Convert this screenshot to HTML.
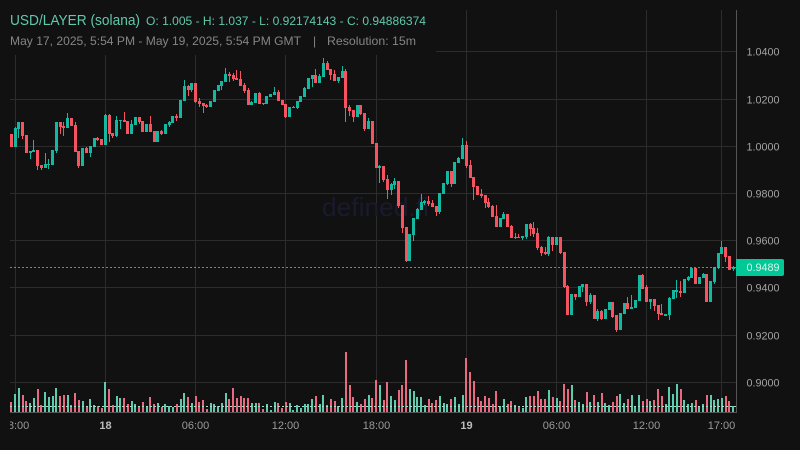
<!DOCTYPE html>
<html lang="en">
<head>
<meta charset="utf-8">
<title>USD/LAYER (solana) chart</title>
<style>
html,body{margin:0;padding:0;background:#111;width:800px;height:450px;overflow:hidden}
svg{display:block;font-family:"Liberation Sans",sans-serif}
</style>
</head>
<body>
<svg id="chart" xmlns="http://www.w3.org/2000/svg" width="800" height="450" viewBox="0 0 800 450">
  <defs>
    <clipPath id="axis-clip"><rect x="10" y="415" width="726" height="30"/></clipPath>
  </defs>
  <rect x="0" y="0" width="800" height="450" fill="#111111"/>
  <g id="grid"></g>
  <text x="322" y="216" font-size="26" fill="#1a1a2e" textLength="107" lengthAdjust="spacingAndGlyphs">defined.fi</text>
  <rect x="0" y="0" width="436" height="55" fill="#111111"/>
  <g id="volume"></g>
  <g id="candles"></g>
  <g id="overlay"></g>
  <g id="axes"></g>
  <text x="10" y="25" font-size="14.5" fill="#5fc9ab" textLength="130" lengthAdjust="spacingAndGlyphs">USD/LAYER (solana)</text>
  <text x="146" y="25" font-size="12" fill="#5fc9ab" textLength="280" lengthAdjust="spacingAndGlyphs">O: 1.005 - H: 1.037 - L: 0.92174143 - C: 0.94886374</text>
  <text x="10" y="45" font-size="12" fill="#858585" textLength="291" lengthAdjust="spacingAndGlyphs">May 17, 2025, 5:54 PM - May 19, 2025, 5:54 PM GMT</text>
  <text x="313" y="45" font-size="12" fill="#858585">|</text>
  <text x="327" y="45" font-size="12" fill="#858585" textLength="89" lengthAdjust="spacingAndGlyphs">Resolution: 15m</text>
</svg>
<script>
const opens = [1.0052,.9997,1.0073,1.0103,1.0048,.9972,.9976,.9984,.9921,.9908,.9921,.9921,.9980,1.0103,1.0086,1.0077,1.0120,1.0090,.9980,.9917,.9993,.9972,.9997,1.0035,1.0031,
1.0005,1.0133,1.0056,1.0044,1.0107,1.0111,1.0107,1.0052,1.0090,1.0124,1.0107,1.0060,1.0094,1.0065,1.0018,1.0065,1.0052,1.0090,1.0099,1.0128,1.0120,1.0192,1.0255,1.0238,1.0268,
1.0192,1.0183,1.0175,1.0166,1.0188,1.0234,1.0255,1.0272,1.0306,1.0302,1.0289,1.0285,1.0260,1.0238,1.0175,1.0183,1.0226,1.0183,1.0179,1.0209,1.0217,1.0230,1.0196,1.0179,1.0124,
1.0162,1.0162,1.0188,1.0209,1.0243,1.0285,1.0302,1.0268,1.0294,1.0353,1.0327,1.0306,1.0277,1.0289,1.0319,1.0166,1.0154,1.0124,1.0175,1.0141,1.0073,1.0107,1.0014,.9908,.9917,
.9861,.9815,.9836,.9853,.9751,.9658,.9514,.9624,.9692,.9730,.9760,.9768,.9760,.9747,.9722,.9798,.9840,.9895,.9840,.9929,.9946,1.0005,.9921,.9870,.9832,
.9798,.9794,.9764,.9747,.9705,.9658,.9692,.9713,.9662,.9611,.9616,.9611,.9616,.9671,.9654,.9633,.9573,.9552,.9544,.9616,.9582,.9616,.9552,.9408,.9285,
.9374,.9361,.9404,.9417,.9340,.9370,.9268,.9302,.9268,.9306,.9340,.9285,.9222,.9289,.9336,.9311,.9315,.9344,.9455,.9404,.9340,.9353,.9328,.9294,.9281,
.9285,.9353,.9383,.9387,.9378,.9433,.9442,.9484,.9417,.9442,.9459,.9340,.9425,.9484,.9544,.9573,.9535,.9480];
const highs = [1.0052,1.0082,1.0103,1.0103,1.0048,.9980,1.0027,.9984,.9921,.9972,.9946,.9984,1.0103,1.0103,1.0103,1.0141,1.0120,1.0103,.9980,.9993,.9997,1.0001,1.0035,1.0039,1.0031,
1.0137,1.0137,1.0056,1.0128,1.0111,1.0145,1.0107,1.0111,1.0124,1.0124,1.0107,1.0094,1.0128,1.0065,1.0065,1.0069,1.0094,1.0107,1.0128,1.0137,1.0196,1.0281,1.0260,1.0268,1.0268,
1.0205,1.0183,1.0179,1.0192,1.0238,1.0260,1.0277,1.0332,1.0315,1.0311,1.0323,1.0319,1.0268,1.0247,1.0192,1.0226,1.0230,1.0183,1.0213,1.0222,1.0251,1.0238,1.0196,1.0179,1.0166,
1.0171,1.0192,1.0213,1.0251,1.0289,1.0302,1.0327,1.0306,1.0374,1.0361,1.0327,1.0323,1.0294,1.0340,1.0327,1.0175,1.0154,1.0175,1.0175,1.0141,1.0120,1.0107,1.0014,.9921,.9917,
.9878,.9844,.9866,.9853,.9751,.9658,.9628,.9696,.9738,.9798,.9772,.9789,.9772,.9747,.9802,.9844,.9895,.9895,.9933,.9955,1.0035,1.0022,.9942,.9870,.9832,
.9819,.9794,.9781,.9751,.9751,.9696,.9722,.9713,.9667,.9633,.9628,.9620,.9671,.9675,.9679,.9654,.9578,.9573,.9620,.9616,.9616,.9616,.9552,.9412,.9374,
.9374,.9408,.9417,.9417,.9378,.9370,.9311,.9306,.9311,.9340,.9340,.9285,.9294,.9336,.9361,.9370,.9349,.9455,.9459,.9412,.9353,.9353,.9328,.9332,.9289,
.9361,.9391,.9433,.9429,.9438,.9450,.9484,.9484,.9446,.9463,.9459,.9429,.9489,.9548,.9599,.9573,.9535,.9493];
const lows = [.9997,.9997,1.0035,1.0031,.9972,.9946,.9976,.9900,.9900,.9908,.9904,.9921,.9972,1.0052,1.0044,1.0077,1.0086,.9976,.9908,.9917,.9972,.9955,.9997,1.0022,1.0005,
1.0005,1.0018,1.0035,1.0039,1.0073,1.0103,1.0052,1.0052,1.0090,1.0094,1.0060,1.0060,1.0060,1.0018,1.0018,1.0048,1.0052,1.0082,1.0099,1.0107,1.0120,1.0192,1.0213,1.0230,1.0183,
1.0166,1.0141,1.0162,1.0166,1.0188,1.0234,1.0238,1.0272,1.0272,1.0277,1.0281,1.0255,1.0226,1.0175,1.0175,1.0183,1.0179,1.0175,1.0179,1.0209,1.0217,1.0192,1.0175,1.0120,1.0124,
1.0162,1.0158,1.0188,1.0209,1.0243,1.0251,1.0268,1.0268,1.0294,1.0323,1.0281,1.0277,1.0268,1.0289,1.0103,1.0128,1.0103,1.0124,1.0133,1.0065,1.0073,1.0010,.9908,.9844,.9849,
.9777,.9794,.9819,.9738,.9633,.9510,.9514,.9599,.9692,.9730,.9751,.9747,.9743,.9705,.9713,.9798,.9836,.9828,.9840,.9929,.9946,.9908,.9866,.9772,.9794,
.9781,.9738,.9738,.9700,.9658,.9658,.9692,.9658,.9611,.9607,.9611,.9603,.9607,.9620,.9616,.9561,.9535,.9539,.9535,.9556,.9582,.9544,.9400,.9285,.9285,
.9349,.9361,.9383,.9323,.9332,.9268,.9260,.9264,.9268,.9306,.9272,.9213,.9222,.9289,.9311,.9311,.9315,.9344,.9395,.9340,.9311,.9302,.9264,.9285,.9281,
.9264,.9353,.9357,.9361,.9378,.9429,.9442,.9417,.9417,.9442,.9340,.9340,.9417,.9480,.9544,.9510,.9476,.9472];
const closes = [.9997,1.0077,1.0103,1.0044,.9972,.9980,.9984,.9917,.9908,.9925,.9925,.9984,1.0103,1.0082,1.0077,1.0120,1.0086,.9976,.9917,.9993,.9972,1.0001,1.0035,1.0027,1.0005,
1.0133,1.0052,1.0044,1.0111,1.0111,1.0103,1.0052,1.0094,1.0124,1.0103,1.0060,1.0094,1.0060,1.0018,1.0065,1.0052,1.0094,1.0103,1.0128,1.0120,1.0196,1.0255,1.0238,1.0268,1.0188,
1.0179,1.0171,1.0166,1.0192,1.0238,1.0260,1.0277,1.0306,1.0298,1.0285,1.0281,1.0255,1.0234,1.0175,1.0188,1.0226,1.0179,1.0179,1.0213,1.0222,1.0230,1.0192,1.0175,1.0124,1.0166,
1.0166,1.0192,1.0213,1.0247,1.0289,1.0302,1.0268,1.0298,1.0353,1.0323,1.0302,1.0277,1.0294,1.0319,1.0162,1.0149,1.0124,1.0175,1.0137,1.0073,1.0107,1.0010,.9908,.9917,.9857,
.9815,.9840,.9853,.9747,.9654,.9514,.9628,.9696,.9734,.9764,.9768,.9755,.9743,.9722,.9802,.9844,.9895,.9840,.9933,.9950,1.0005,.9917,.9866,.9828,.9794,
.9789,.9760,.9743,.9700,.9658,.9696,.9713,.9658,.9611,.9616,.9611,.9620,.9671,.9650,.9628,.9569,.9548,.9544,.9616,.9582,.9616,.9548,.9404,.9285,.9374,
.9361,.9408,.9417,.9340,.9370,.9268,.9302,.9268,.9311,.9340,.9277,.9222,.9294,.9336,.9311,.9319,.9349,.9455,.9395,.9340,.9353,.9323,.9289,.9285,.9289,
.9357,.9391,.9391,.9378,.9438,.9446,.9484,.9417,.9446,.9459,.9340,.9429,.9489,.9548,.9573,.9531,.9476,.9489];
const volumes = [103,183,243,173,113,93,143,233,73,203,153,163,243,163,173,173,73,193,123,113,63,133,73,63,43,
303,233,73,163,143,143,83,113,83,63,103,63,153,83,93,53,83,63,53,83,133,193,153,93,163,
103,123,33,93,83,63,93,193,133,243,143,163,143,143,93,93,93,33,83,23,103,93,43,103,93,
23,73,43,83,83,133,163,83,173,73,133,113,63,143,603,273,153,103,83,133,173,143,323,273,123,
303,163,123,223,273,523,233,213,153,153,73,133,93,123,163,93,83,133,153,83,173,543,403,313,153,
113,163,143,83,213,63,133,83,113,73,63,43,153,163,163,213,133,133,223,153,143,113,283,233,273,
123,103,83,203,103,173,103,193,93,73,103,163,183,93,133,173,63,173,113,133,113,123,233,163,83,
253,183,283,233,123,83,93,123,63,83,173,173,123,133,143,163,113,63];
const priceTicks = [1.04,1.02,1.00,0.98,0.96,0.94,0.92,0.90];
const timeLabels = ["18:00","18","06:00","12:00","18:00","19","06:00","12:00","17:00"];
const timeHours = [-6,0,6,12,18,24,30,36,41];
const lastPrice = 0.9489;

const svgNS = "http://www.w3.org/2000/svg";
const PLOT_L = 10, PLOT_R = 736, PLOT_T = 10, PLOT_B = 412;
const priceY = p => 146.3 + (1 - p) * 2360;
const indexX = i => 105.3 + 3.76 * (i - 25);
const hourX = h => 105.3 + 15.04 * h;
const volumeY = v => 412.3 - v * 0.1;
function mk(parent, tag, attrs) {
  const el = document.createElementNS(svgNS, tag);
  for (const k in attrs) el.setAttribute(k, attrs[k]);
  parent.appendChild(el);
  return el;
}
const gridG = document.getElementById("grid");
const volG = document.getElementById("volume");
const candleG = document.getElementById("candles");
const overlayG = document.getElementById("overlay");
const axesG = document.getElementById("axes");

priceTicks.forEach(p => {
  const y = Math.floor(priceY(p)) + 0.5;
  const line = mk(gridG, "line", {x1: PLOT_L, x2: PLOT_R, y1: y, y2: y, stroke: "#2c2c2c", "stroke-width": 1});
  
  
  const label = mk(axesG, "text", {x: 746.5, y: y + 4, "font-size": 11, fill: "#a3a3a3", textLength: 33, lengthAdjust: "spacingAndGlyphs"});
  
  
  label.textContent = p.toFixed(4);
});
timeHours.forEach((h, i) => {
  const x = Math.floor(hourX(h)) + 0.5;
  const line = mk(gridG, "line", {x1: x, x2: x, y1: PLOT_T, y2: PLOT_B, stroke: "#2c2c2c", "stroke-width": 1});
  
  
  const major = timeLabels[i].length === 2;
  const label = mk(axesG, "text", {x: x, y: 429, "font-size": 11, "text-anchor": "middle", fill: major ? "#bdbdbd" : "#9a9a9a", "font-weight": major ? "bold" : "normal", "clip-path": "url(#axis-clip)"});
  
  
  label.textContent = timeLabels[i];
});

closes.forEach((c, i) => {
  const up = c >= opens[i];
  const x = indexX(i);
  const hY = Math.round(priceY(highs[i]));
  const lY = Math.round(priceY(lows[i]));
  const tY = Math.round(priceY(Math.max(opens[i], c)));
  const bY = Math.round(priceY(Math.min(opens[i], c)));
  const col = up ? "#14b8a0" : "#f7525f";
  const wick = mk(candleG, "rect", {x: Math.floor(x), y: hY, width: 1, height: Math.max(1, lY - hY), fill: col});
  
  
  const body = mk(candleG, "rect", {x: Math.floor(x) - 1, y: tY, width: 3, height: Math.max(1, bY - tY), fill: col});
  
  
  const vTop = volumeY(volumes[i]);
  const bar = mk(volG, "rect", {x: Math.round(x) - 1, y: vTop, width: 2, height: 412.3 - vTop, fill: up ? "#5ecbae" : "#e96a80"});
  
  
});

const lastY = Math.round(priceY(lastPrice)) + 0.5;
const priceLine = mk(overlayG, "line", {x1: PLOT_L, x2: PLOT_R, y1: lastY, y2: lastY, stroke: "#3fbfa2", "stroke-width": 1, "stroke-dasharray": "2 2", opacity: 0.85});


const volLineY = Math.floor(volumeY(volumes[volumes.length - 1])) + 0.5;
const volLine = mk(overlayG, "line", {x1: PLOT_L, x2: PLOT_R, y1: volLineY, y2: volLineY, stroke: "#a8dccd", "stroke-width": 1, "stroke-dasharray": "2 2"});



const rightAxis = mk(axesG, "line", {x1: 736.5, x2: 736.5, y1: PLOT_T, y2: 412.5, stroke: "#555555", "stroke-width": 1});


const baseAxis = mk(axesG, "line", {x1: PLOT_L, x2: 737, y1: 412.5, y2: 412.5, stroke: "#555555", "stroke-width": 1});



const tagY = Math.round(priceY(lastPrice));
const tag = mk(axesG, "path", {d: `M736 ${tagY - 8}H782a2 2 0 0 1 2 2V${tagY + 7}a2 2 0 0 1 -2 2H736Z`, fill: "#00c896"});


const tagText = mk(axesG, "text", {x: 746.5, y: tagY + 4, "font-size": 11, fill: "#d8f5ec", textLength: 33, lengthAdjust: "spacingAndGlyphs"});


tagText.textContent = lastPrice.toFixed(4);
</script>
</body>
</html>
